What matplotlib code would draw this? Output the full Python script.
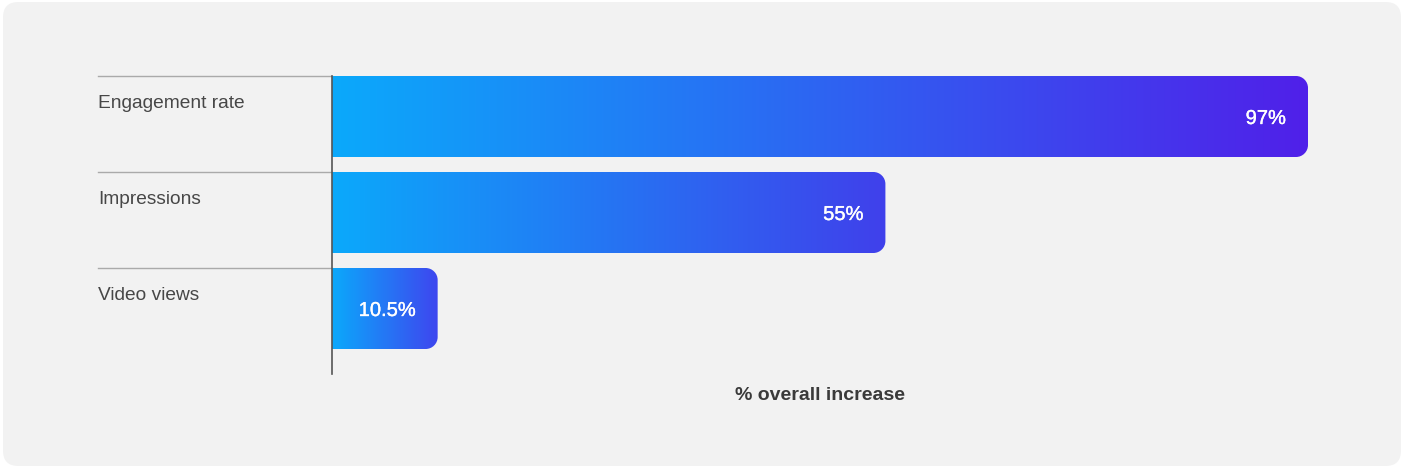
import numpy as np
import matplotlib
matplotlib.use("Agg")
import matplotlib.pyplot as plt
import matplotlib.patheffects as pe
from matplotlib.patches import FancyBboxPatch, PathPatch
from matplotlib.path import Path
from matplotlib.colors import LinearSegmentedColormap

# Data
categories = ["Engagement rate", "Impressions", "Video views"]
values = [97, 55, 10.5]
value_labels = ["97%", "55%", "10.5%"]
xlabel = "% overall increase"

# Gradient colours per bar (start -> end)
grad_start = "#0BA9FB"
grad_ends = ["#5020E9", "#4040EB", "#3E46EF"]

W, H, DPI = 1403, 468, 100
fig = plt.figure(figsize=(W / DPI, H / DPI), dpi=DPI)
fig.patch.set_facecolor("white")

# Rounded light-grey card behind the chart
card = FancyBboxPatch((3 / W, 2 / H), (1398 / W), (464 / H),
                      boxstyle="round,pad=0,rounding_size=0.011",
                      transform=fig.transFigure, facecolor="#F2F2F2",
                      edgecolor="none", mutation_aspect=W / H, zorder=-10)
fig.patches.append(card)

# Plot area in pixel terms
left_px, right_px, top_px, bottom_px = 332, 1308, 76, 374
ax = fig.add_axes([left_px / W, 1 - bottom_px / H,
                   (right_px - left_px) / W, (bottom_px - top_px) / H])
ax.set_facecolor("none")
ax.set_zorder(5)
band_px = 96
bar_px = 81
ax.set_xlim(0, max(values))
ax.set_ylim((bottom_px - top_px) / band_px, 0)

for s in ["top", "right", "bottom"]:
    ax.spines[s].set_visible(False)
ax.spines["left"].set_color("#555555")
ax.spines["left"].set_linewidth(1.2)
ax.set_xticks([])
ax.set_yticks([])

px_x = max(values) / (right_px - left_px)   # data units per pixel (x)
px_y = 1 / band_px                            # data units per pixel (y)
radius = 12
bar_h = bar_px / band_px
k = 0.5523


def right_rounded_path(x1, y0, y1, rx, ry):
    # y axis is inverted: y0 is the top edge, y1 the bottom edge
    verts = [(0, y0), (x1 - rx, y0),
             (x1 - rx + k * rx, y0), (x1, y0 + ry - k * ry), (x1, y0 + ry),
             (x1, y1 - ry),
             (x1, y1 - ry + k * ry), (x1 - rx + k * rx, y1), (x1 - rx, y1),
             (0, y1), (0, y0)]
    codes = [Path.MOVETO, Path.LINETO,
             Path.CURVE4, Path.CURVE4, Path.CURVE4,
             Path.LINETO,
             Path.CURVE4, Path.CURVE4, Path.CURVE4,
             Path.LINETO, Path.CLOSEPOLY]
    return Path(verts, codes)


grad = np.linspace(0, 1, 512).reshape(1, -1)
for i, (cat, v, lab) in enumerate(zip(categories, values, value_labels)):
    y0 = i
    y1 = i + bar_h
    cmap = LinearSegmentedColormap.from_list(f"g{i}", [grad_start, grad_ends[i]])
    im = ax.imshow(grad, cmap=cmap, aspect="auto", extent=(0, v, y1, y0),
                   interpolation="bicubic", zorder=2)
    patch = PathPatch(right_rounded_path(v, y0, y1, radius * px_x, radius * px_y),
                      facecolor="none", edgecolor="none", transform=ax.transData)
    ax.add_patch(patch)
    im.set_clip_path(patch)

    # value label inside the bar end
    ax.text(v - 22 * px_x, (y0 + y1) / 2 + 2 * px_y, lab, color="white",
            fontsize=14.5, ha="right", va="center", family="Liberation Sans",
            zorder=3,
            path_effects=[pe.withStroke(linewidth=0.25, foreground="white")])

    # separator line to the left of the axis
    ax.plot([-(left_px - 98) / (right_px - left_px), 0], [y0, y0],
            transform=ax.get_yaxis_transform(), color="#AAAAAA", lw=1.0,
            clip_on=False, zorder=1)
    ax.text(-(left_px - 98) / (right_px - left_px), y0 + 27 / band_px, cat,
            transform=ax.get_yaxis_transform(), ha="left", va="center",
            fontsize=13.8, color="#474747", family="Liberation Sans")

ax.set_xlim(0, max(values))
ax.set_ylim((bottom_px - top_px) / band_px, 0)

fig.text((left_px + right_px) / 2 / W, 1 - 396 / H, xlabel, ha="center",
         va="center", fontsize=14, fontweight="bold", color="#3A3A3A",
         family="Liberation Sans")

fig.savefig("out.png", dpi=DPI, facecolor="white")
